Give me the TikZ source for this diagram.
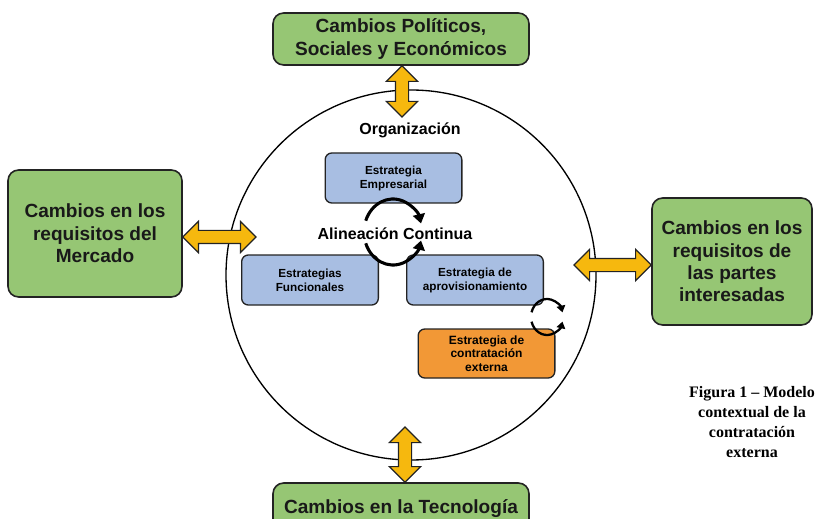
\documentclass[tikz,border=0pt]{standalone}
\usepackage{fontspec}
\setmainfont{Liberation Serif}
\setsansfont{Liberation Sans}
\usetikzlibrary{shapes.arrows,calc,arrows.meta}
\definecolor{verde}{RGB}{150,198,116}
\definecolor{azul}{RGB}{168,190,226}
\definecolor{naranja}{RGB}{242,152,54}
\definecolor{amarillo}{RGB}{246,184,14}
\definecolor{borde}{RGB}{35,35,35}

\begin{document}
\begin{tikzpicture}
[x=0.75pt,y=0.75pt,
cambio/.style={draw=borde,line width=1.2pt,fill=verde,rounded corners=8pt,
  align=center,inner sep=0pt,text=black!90,
  font=\sffamily\bfseries\fontsize{14.3}{16.8}\selectfont},
estrat/.style={draw=borde,line width=1pt,fill=azul,rounded corners=5pt,
  align=center,inner sep=0pt,minimum width=102.5pt,minimum height=37.5pt,
  font=\sffamily\bfseries\fontsize{8.8}{10.5}\selectfont},
flecha/.style={double arrow,draw=borde,line width=0.9pt,fill=amarillo,
  inner xsep=0pt,inner ysep=4.5pt,minimum width=0pt,double arrow head extend=6.75pt},
ciclo/.style={line width=2.3pt,-{Triangle[length=7pt,width=9pt]}},
ciclochico/.style={line width=1.7pt,-{Triangle[length=5pt,width=6.5pt]}},
titulo/.style={font=\sffamily\bfseries\fontsize{12}{14}\selectfont}]
\useasboundingbox (0,0) rectangle (816,518);
\clip (0,0) rectangle (816,518);

\node (orbe) at (411,243) [circle,draw,line width=1pt,minimum size=277.5pt] {};
\node (orga) at (410,388) [titulo] {Organización};

\node (politicos) at (401,479) [cambio,minimum width=192pt,minimum height=39pt] {Cambios Políticos,\\Sociales y Económicos};
\node (mercado) at (95,284.5) [cambio,minimum width=130.5pt,minimum height=95.25pt] {Cambios en los\\requisitos del\\Mercado};
\node (partes) at (732,256.5) [cambio,minimum width=120pt,minimum height=95.25pt] {Cambios en los\\requisitos de\\las partes\\interesadas};
\node (tecno) at (401,9) [cambio,minimum width=192pt,minimum height=39pt] {Cambios en la Tecnología};

\node (empresarial) at (393.5,340) [estrat] {Estrategia\\Empresarial};
\node (funcionales) at (310,238) [estrat] {Estrategias\\Funcionales};
\node (aprov) at (475,238) [estrat] {Estrategia de\\aprovisionamiento};
\node (externa) at (486.5,164.5) [estrat,fill=naranja,minimum height=36.75pt,font=\sffamily\bfseries\fontsize{9}{10}\selectfont] {Estrategia de\\contratación\\externa};
\node (alinea) at (395,284) [titulo] {Alineación Continua};

\coordinate (ptop) at (402,401);
\coordinate (lin) at (256,281);
\coordinate (rin) at (574,253);
\coordinate (bin) at (405,91);
\coordinate (giro) at (393,286);
\coordinate (girochico) at (547,201);

% flechas dobles entre el entorno y la organizacion
\path let \p1=($(politicos.south -| ptop)-(ptop)$), \n1={veclen(\x1,\y1)} in
  node [flecha,rotate=90,minimum height=\n1] at ($(politicos.south -| ptop)!0.5!(ptop)$) {};
\path let \p1=($(mercado.east |- lin)-(lin)$), \n1={veclen(\x1,\y1)} in
  node [flecha,minimum height=\n1] at ($(mercado.east |- lin)!0.5!(lin)$) {};
\path let \p1=($(partes.west |- rin)-(rin)$), \n1={veclen(\x1,\y1)} in
  node [flecha,minimum height=\n1] at ($(partes.west |- rin)!0.5!(rin)$) {};
\path let \p1=($(tecno.north -| bin)-(bin)$), \n1={veclen(\x1,\y1)} in
  node [flecha,rotate=90,minimum height=\n1] at ($(tecno.north -| bin)!0.5!(bin)$) {};

\draw[ciclo] ([shift={(160:29 and 33)}]giro) arc[start angle=160,end angle=15,x radius=29,y radius=33];
\draw[ciclo] ([shift={(200:29 and 33)}]giro) arc[start angle=200,end angle=345,x radius=29,y radius=33];
\draw[ciclochico] ([shift={(165:16 and 18)}]girochico) arc[start angle=165,end angle=15,x radius=16,y radius=18];
\draw[ciclochico] ([shift={(195:16 and 18)}]girochico) arc[start angle=195,end angle=345,x radius=16,y radius=18];

\node (leyenda) at (752,95.5) [align=center,font=\rmfamily\bfseries\fontsize{12}{15}\selectfont] {Figura 1 – Modelo\\contextual de la\\contratación\\externa};

\end{tikzpicture}
\end{document}
